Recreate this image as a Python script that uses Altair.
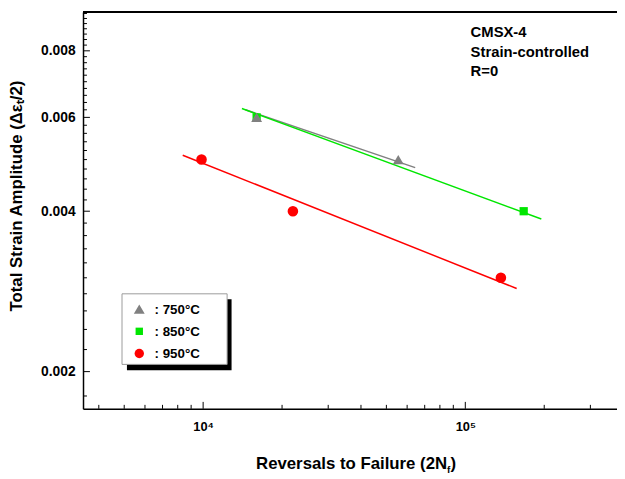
import altair as alt
import pandas as pd

# ---------------- data ----------------
series = ["750°C", "850°C", "950°C"]
colors = ["#808080", "#00e600", "#ff0000"]
shapes = ["triangle-up", "square", "circle"]
sizes = [121, 70, 115]
leg_sizes = [121, 56, 90]

# measured points (reversals to failure, strain amplitude)
pt_series = ["850°C", "850°C", "750°C", "750°C", "950°C", "950°C", "950°C"]
pt_cycles = [16000, 167000, 16000, 55500, 9860, 22000, 136700]
pt_strain = [0.0060, 0.0040, 0.0060, 0.0050, 0.0050, 0.0040, 0.0030]

# fitted lines (end points)
fit_series = ["750°C", "750°C", "850°C", "850°C", "950°C", "950°C"]
fit_cycles = [14500, 64400, 14060, 195000, 8360, 157000]
fit_strain = [0.00620, 0.00483, 0.006235, 0.003867, 0.005095, 0.002864]

# axis ticks
x_major = [10000, 100000]
x_minor = [4000, 5000, 6000, 7000, 8000, 9000,
           20000, 30000, 40000, 50000, 60000, 70000, 80000, 90000,
           200000, 300000]
y_major = [0.002, 0.004, 0.006, 0.008]
y_minor = [0.0018, 0.0022, 0.0024, 0.0026, 0.0028, 0.0030, 0.0032, 0.0034,
           0.0036, 0.0038, 0.0042, 0.0044, 0.0046, 0.0048, 0.0050, 0.0052,
           0.0054, 0.0056, 0.0058, 0.0062, 0.0064, 0.0066, 0.0068, 0.0070,
           0.0072, 0.0074, 0.0076, 0.0078, 0.0082, 0.0084, 0.0086, 0.0088,
           0.0090, 0.0092, 0.0094]

annotation = ["CMSX-4", "Strain-controlled", "R=0"]

# ---------------- chart ----------------
W, H = 541, 402
FONT = "Liberation Sans"

pts = pd.DataFrame({"series": pt_series, "cycles": pt_cycles, "strain": pt_strain})
fits = pd.DataFrame({"series": fit_series, "cycles": fit_cycles, "strain": fit_strain})
xmaj = pd.DataFrame({"cycles": x_major})
xmin = pd.DataFrame({"cycles": x_minor})
ymaj = pd.DataFrame({"strain": y_major})
ymin = pd.DataFrame({"strain": y_minor})
one = alt.Data(values=[{}])

x_scale = alt.Scale(type="log", domain=[3482, 379000], nice=False)
y_scale = alt.Scale(type="log", domain=[0.001703, 0.00946], nice=False)

x_axis = alt.Axis(values=x_major, labelExpr="datum.value == 10000 ? '10⁴' : '10⁵'",
                  title=None, ticks=False, grid=False, domainColor="black",
                  domainWidth=1.5, labelFont=FONT, labelFontSize=13,
                  labelFontWeight="bold", labelColor="black", labelPadding=12)
y_axis = alt.Axis(values=y_major, format=".3f", title=None, ticks=False,
                  grid=False, domainColor="black", domainWidth=1.5,
                  labelFont=FONT, labelFontSize=14, labelFontWeight="bold",
                  labelColor="black", labelPadding=8)

X = alt.X("cycles:Q", scale=x_scale, axis=x_axis)
Y = alt.Y("strain:Q", scale=y_scale, axis=y_axis)

layers = []

# frame top line
layers.append(alt.Chart(one).mark_rule(color="black", strokeWidth=2).encode(
    x=alt.value(0), x2=alt.value(W), y=alt.value(0)))

# inward ticks
layers.append(alt.Chart(ymaj).mark_rule(color="black", strokeWidth=1).encode(
    y=Y, x=alt.value(0), x2=alt.value(7)))
layers.append(alt.Chart(ymin).mark_rule(color="black", strokeWidth=1).encode(
    y=Y, x=alt.value(0), x2=alt.value(4)))
layers.append(alt.Chart(xmaj).mark_rule(color="black", strokeWidth=1).encode(
    x=X, y=alt.value(H), y2=alt.value(H - 7)))
layers.append(alt.Chart(xmin).mark_rule(color="black", strokeWidth=1).encode(
    x=X, y=alt.value(H), y2=alt.value(H - 4)))

# fitted lines
for s, c in zip(series, colors):
    layers.append(alt.Chart(fits).transform_filter(alt.datum.series == s)
                  .mark_line(color=c, strokeWidth=1.5).encode(x=X, y=Y))

# points (squares first, then triangles, then circles)
for i in [1, 0, 2]:
    layers.append(alt.Chart(pts).transform_filter(alt.datum.series == series[i])
                  .mark_point(filled=True, opacity=1, shape=shapes[i],
                              color=colors[i], size=sizes[i])
                  .encode(x=X, y=Y))

# legend box with shadow
layers.append(alt.Chart(one).mark_rect(color="black").encode(
    x=alt.value(44.5), x2=alt.value(150.5), y=alt.value(291), y2=alt.value(363)))
layers.append(alt.Chart(one).mark_rect(fill="white", stroke="#9a9a9a", strokeWidth=1).encode(
    x=alt.value(39.5), x2=alt.value(146), y=alt.value(285.5), y2=alt.value(357)))
leg_y = [301, 323.5, 346]
for i, s in enumerate(series):
    layers.append(alt.Chart(one).mark_point(filled=True, opacity=1, shape=shapes[i],
                                            color=colors[i], size=leg_sizes[i])
                  .encode(x=alt.value(57), y=alt.value(leg_y[i])))
    layers.append(alt.Chart(one).mark_text(align="left", baseline="middle", font=FONT,
                                           fontSize=13.5, fontWeight="bold", color="black")
                  .encode(x=alt.value(72.5), y=alt.value(leg_y[i] + 0.5),
                          text=alt.value(": " + s)))

# annotation
layers.append(alt.Chart(one).mark_text(
    align="left", baseline="alphabetic", font=FONT, fontSize=15,
    fontWeight="bold", color="black", lineHeight=20, text=annotation
).encode(x=alt.value(392.7), y=alt.value(25.3)))

# axis titles
layers.append(alt.Chart(one).mark_text(
    angle=270, align="center", baseline="alphabetic", font=FONT, fontSize=17,
    fontWeight="bold", color="black"
).encode(x=alt.value(-62), y=alt.value(186.5),
         text=alt.value("Total Strain Amplitude (Δεₜ/2)")))
layers.append(alt.Chart(one).mark_text(
    align="left", baseline="alphabetic", font=FONT, fontSize=17,
    fontWeight="bold", color="black"
).encode(x=alt.value(175.3), y=alt.value(463.3),
         text=alt.value("Reversals to Failure (2N")))
layers.append(alt.Chart(one).mark_text(
    align="left", baseline="alphabetic", font=FONT, fontSize=10,
    fontWeight="bold", color="black"
).encode(x=alt.value(368.8), y=alt.value(467), text=alt.value("f")))
layers.append(alt.Chart(one).mark_text(
    align="left", baseline="alphabetic", font=FONT, fontSize=17,
    fontWeight="bold", color="black"
).encode(x=alt.value(372.2), y=alt.value(463.3), text=alt.value(")")))

chart = alt.layer(*layers).properties(
    width=W, height=H,
    padding={"left": 76, "top": 1, "right": 0, "bottom": 66},
    autosize=alt.AutoSizeParams(type="none"),
).configure_view(stroke=None).configure(background="white")

chart.save("out.html", embed_options={"renderer": "svg", "actions": False})
